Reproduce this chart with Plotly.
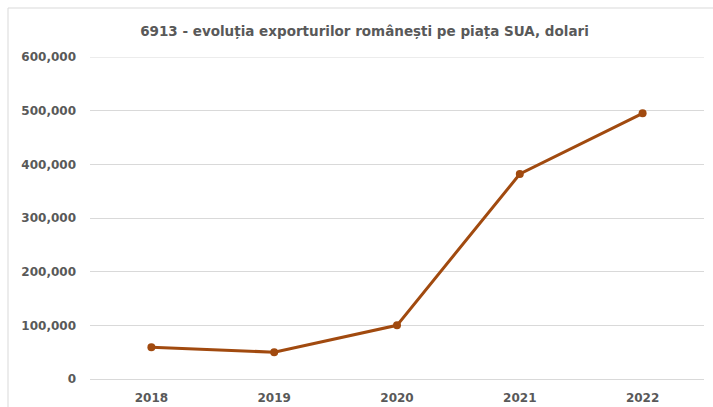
import plotly.graph_objects as go

years = ["2018", "2019", "2020", "2021", "2022"]
exports_usd = [59000, 50000, 100000, 382000, 495000]
y_ticks = [0, 100000, 200000, 300000, 400000, 500000, 600000]

line_color = "#A14A0F"
text_color = "#595959"
grid_color = "#D9D9D9"

fig = go.Figure(
    go.Scatter(
        x=years,
        y=exports_usd,
        mode="lines+markers",
        line=dict(color=line_color, width=3),
        marker=dict(color=line_color, size=8),
        hoverinfo="x+y",
    )
)

W, H = 713, 407
ml, mr, mt, mb = 90, 9, 57, 28
pw, ph = W - ml - mr, H - mt - mb

tick_font = dict(size=12, color=text_color, family="DejaVu Sans", weight="bold")

fig.update_layout(
    width=W,
    height=H,
    margin=dict(l=ml, r=mr, t=mt, b=mb, autoexpand=False),
    paper_bgcolor="white",
    plot_bgcolor="white",
    showlegend=False,
    font=dict(family="DejaVu Sans", color=text_color),
    title=dict(
        text="<b>6913 - evoluția exporturilor românești pe piața SUA, dolari</b>",
        x=(364.5 - ml) / pw,
        xanchor="center",
        xref="paper",
        y=1 - 31 / H,
        yanchor="middle",
        font=dict(size=13.5, color=text_color, family="DejaVu Sans"),
    ),
    xaxis=dict(
        type="category",
        range=[-0.5, len(years) - 0.5],
        automargin=False,
        showgrid=False,
        showline=False,
        zeroline=False,
        ticks="",
        tickfont=tick_font,
        ticklabelstandoff=10,
    ),
    yaxis=dict(
        range=[0, max(y_ticks)],
        tickvals=y_ticks,
        tickformat=",",
        automargin=False,
        showgrid=True,
        gridcolor=grid_color,
        gridwidth=1,
        zeroline=True,
        zerolinecolor=grid_color,
        zerolinewidth=1,
        showline=False,
        ticks="",
        ticklabelstandoff=13,
        tickfont=tick_font,
    ),
)

# top gridline sits on the range edge, where plotly clips grid lines
fig.add_shape(
    type="line",
    xref="paper",
    yref="y",
    x0=0,
    x1=1,
    y0=max(y_ticks),
    y1=max(y_ticks),
    line=dict(color=grid_color, width=1),
    layer="below",
)

# outer chart frame (extends past the right and bottom edges)
fig.add_shape(
    type="rect",
    xref="paper",
    yref="paper",
    x0=(8 - ml) / pw,
    x1=(W + 5 - ml) / pw,
    y0=-(mb + 5) / ph,
    y1=1 + (mt - 8) / ph,
    line=dict(color="#D9D9D9", width=1),
    layer="below",
)

fig.write_html("out.html")
